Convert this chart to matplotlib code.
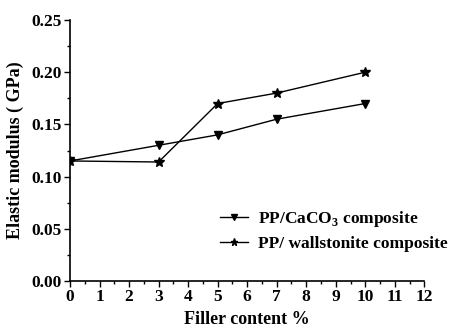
import matplotlib
matplotlib.use("Agg")
import matplotlib.pyplot as plt
from matplotlib.ticker import MultipleLocator
from matplotlib.font_manager import FontProperties

filler = [0, 3, 5, 7, 10]
caco3 = [0.115, 0.130, 0.140, 0.155, 0.170]
wollastonite = [0.115, 0.114, 0.170, 0.180, 0.200]
xticks = list(range(0, 13))
yticks = [0.00, 0.05, 0.10, 0.15, 0.20, 0.25]

plt.rcParams['font.family'] = ['Liberation Serif', 'DejaVu Serif']
plt.rcParams['font.weight'] = 'bold'
plt.rcParams['mathtext.fontset'] = 'custom'
plt.rcParams['mathtext.rm'] = 'Liberation Serif:bold'
plt.rcParams['mathtext.bf'] = 'Liberation Serif:bold'

fig = plt.figure(figsize=(4.59, 3.33), dpi=100)
ax = fig.add_axes([0.1525, 0.156, 0.772, 0.784])

ax.plot(filler, caco3, color='black', lw=1, marker='v', ms=6, label=r'PP/CaCO$_3$ composite')
ax.plot(filler, wollastonite, color='black', lw=1, marker='*', ms=7.5, label='PP/ wallstonite composite')

ax.set_xlim(0, 12)
ax.set_ylim(0, 0.25)
ax.set_xticks(xticks)
ax.set_yticks(yticks)
tfp = FontProperties(family='Liberation Serif', weight='bold', size=12.5)
ax.set_xticklabels([str(v) for v in xticks], fontproperties=tfp)
ax.set_yticklabels([f"{v:.2f}" for v in yticks], fontproperties=tfp)
ax.xaxis.set_minor_locator(MultipleLocator(0.5))
ax.yaxis.set_minor_locator(MultipleLocator(0.025))
for s in ['top', 'right']:
    ax.spines[s].set_visible(False)
for s in ['left', 'bottom']:
    ax.spines[s].set_linewidth(1.2)
ax.tick_params(which='major', direction='out', length=4, width=1, pad=2)
ax.tick_params(which='minor', direction='out', length=2.5, width=1)
lfp = FontProperties(family='Liberation Serif', weight='bold', size=13)
ax.set_xlabel('Filler content %', fontproperties=lfp, labelpad=4)
ax.set_ylabel('Elastic modulus ( GPa)', fontproperties=lfp, labelpad=5)

leg = ax.legend(loc='lower right', bbox_to_anchor=(1.11, 0.05), frameon=False,
                prop=FontProperties(family='Liberation Serif', weight='bold', size=12.5),
                handlelength=1.6, handletextpad=0.6, labelspacing=0.4, markerscale=0.7)

fig.savefig('out.png', dpi=100)
